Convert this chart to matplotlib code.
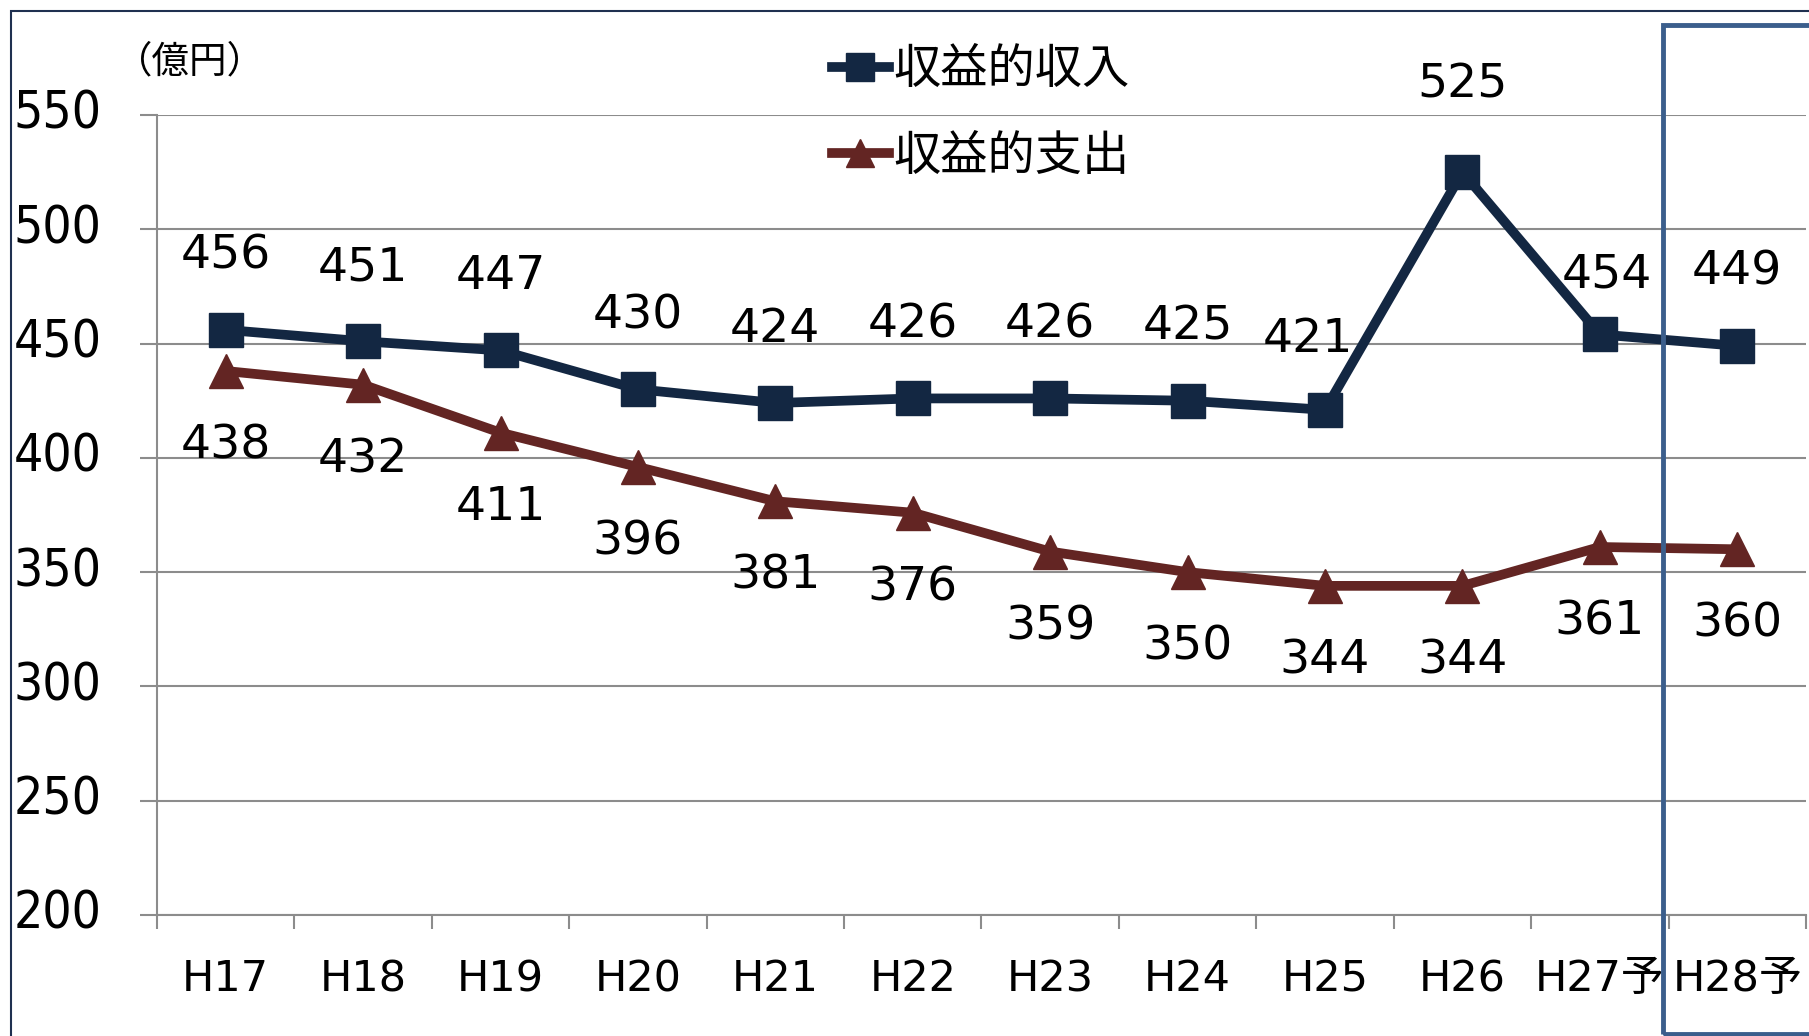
import matplotlib
matplotlib.use("Agg")
import matplotlib.pyplot as plt
from matplotlib.patches import Rectangle
from matplotlib.transforms import ScaledTranslation

plt.rcParams['font.family'] = ['DejaVu Sans', 'Noto Sans CJK JP']

# data
years = ["H17", "H18", "H19", "H20", "H21", "H22", "H23", "H24", "H25", "H26", "H27予", "H28予"]
income = [456, 451, 447, 430, 424, 426, 426, 425, 421, 525, 454, 449]
expense = [438, 432, 411, 396, 381, 376, 359, 350, 344, 344, 361, 360]
yticks = [200, 250, 300, 350, 400, 450, 500, 550]

navy = "#132742"
maroon = "#632523"
grid_c = "#8c8c8c"

fig = plt.figure(figsize=(18.09, 10.36), dpi=100)
ax = fig.add_axes([157/1809, 121/1036, (1806-157)/1809, (921-121)/1036])

x = list(range(len(years)))
ax.plot(x, income, color=navy, lw=7, marker="s", ms=24, label="収益的収入", zorder=4)
ax.plot(x, expense, color=maroon, lw=7, marker="^", ms=24, label="収益的支出", zorder=3)

ax.set_xlim(-0.5, len(years) - 0.5)
ax.set_ylim(200, 550)

# labels above/below points
up_off = {8: (-12, 51), 9: (0, 63), 10: (5, 43)}
for i, v in enumerate(income):
    dx, dy = up_off.get(i, (0, 53))
    ax.annotate(str(v), (i, v), xytext=(dx, dy), textcoords="offset points",
                ha="center", va="center", fontsize=34, zorder=5)
for i, v in enumerate(expense):
    ax.annotate(str(v), (i, v), xytext=(0, -54), textcoords="offset points",
                ha="center", va="center", fontsize=34, zorder=5)

# axes styling
for s in ["top", "right"]:
    ax.spines[s].set_visible(False)
for s in ["left", "bottom"]:
    ax.spines[s].set_color(grid_c)
    ax.spines[s].set_linewidth(1.5)

ax.set_yticks(yticks)
ax.set_yticklabels([str(t) for t in yticks], fontsize=37, fontstretch="condensed")
ax.tick_params(axis="y", length=12, width=1.5, color=grid_c, pad=28)
shift = ScaledTranslation(0, 4/72, fig.dpi_scale_trans)
for lbl in ax.get_yticklabels():
    lbl.set_transform(lbl.get_transform() + shift)
ax.grid(axis="y", color=grid_c, lw=1.5)
ax.set_axisbelow(True)

ax.set_xticks([i - 0.5 for i in range(len(years) + 1)])
ax.set_xticklabels([])
ax.tick_params(axis="x", which="major", length=10, width=1.5, color=grid_c)
ax.set_xticks(x, minor=True)
ax.set_xticklabels(years, minor=True, fontsize=31)
ax.tick_params(axis="x", which="minor", length=0, pad=31)

ax.legend(loc="upper left", bbox_to_anchor=(813/1809, 1 - 27/1036), bbox_transform=fig.transFigure,
          frameon=False, prop={"family": ["Noto Sans CJK JP"], "size": 34},
          handlelength=1.2, handletextpad=0.1, labelspacing=0.8, borderaxespad=0, markerscale=0.85)

fig.text(115/1809, 1 - 62/1036, "（億円）", fontsize=27, family=["Noto Sans CJK JP"],
         ha="left", va="center")

# outer frame and forecast box
fig.patches.append(Rectangle((11/1809, -0.05), 1.1, 1 - 11/1036 + 0.05, transform=fig.transFigure,
                             fill=False, ec="#1f3050", lw=1.5, zorder=0))
fig.patches.append(Rectangle((1663/1809, 2/1036), 0.2, (1034 - 25)/1036, transform=fig.transFigure,
                             fill=False, ec="#3b5e8c", lw=3.5, zorder=10))

fig.savefig("out.png", dpi=100)
